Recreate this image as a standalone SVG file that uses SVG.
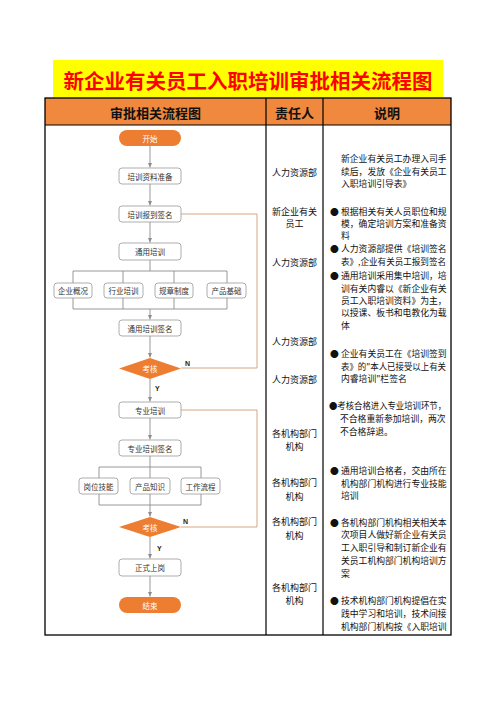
<svg xmlns="http://www.w3.org/2000/svg" width="496" height="702" viewBox="0 0 496 702">
<style>
text{font-family:"Noto Sans CJK SC","Noto Sans",sans-serif;dominant-baseline:central}
.title{font-size:20.5px;font-weight:bold;fill:#FF0000;text-anchor:middle}
.hd{font-size:13px;font-weight:bold;fill:#111;text-anchor:middle}
.box{fill:#fff;stroke:#9a9a9a;stroke-width:0.8}
.pill{fill:#ED7D31;stroke:none}
.bl{font-size:7.5px;fill:#333;text-anchor:middle}
.wl{font-size:7.5px;fill:#fff;text-anchor:middle}
.con{fill:none;stroke:#8c8c8c;stroke-width:0.9}
.loop{fill:none;stroke:#D49A72;stroke-width:0.9}
.c2{font-size:9px;fill:#111;text-anchor:middle}
.c3{font-size:8.8px;fill:#111}
.yn{font-size:7px;font-weight:bold;fill:#222;font-family:"Liberation Sans",sans-serif}
</style>
<defs>
<marker id="ah" markerWidth="6" markerHeight="6" refX="5" refY="3" orient="auto" markerUnits="userSpaceOnUse">
<path d="M0,0.8 L5,3 L0,5.2 Z" fill="#8c8c8c"/>
</marker>
</defs>
<g id="title">
<rect x="53" y="60" width="390" height="38" fill="#FFFF00"/>
<text class="title" x="248" y="80">新企业有关员工入职培训审批相关流程图</text>
</g>
<g id="table">
<rect x="45" y="98" width="406" height="27" fill="#F0883E"/>
<rect x="45" y="98" width="406" height="537" fill="none" stroke="#000" stroke-width="1.3"/>
<line x1="45" y1="125" x2="451" y2="125" stroke="#000" stroke-width="1.2"/>
<line x1="266" y1="98" x2="266" y2="635" stroke="#000" stroke-width="1.2"/>
<line x1="323" y1="98" x2="323" y2="635" stroke="#000" stroke-width="1.2"/>
<text class="hd" x="155.5" y="112">审批相关流程图</text>
<text class="hd" x="294.5" y="112">责任人</text>
<text class="hd" x="387" y="112">说明</text>
</g>
<g id="connectors">
<line class="con" x1="150" y1="146" x2="150" y2="167.5" marker-end="url(#ah)"/>
<line class="con" x1="150" y1="184" x2="150" y2="205.5" marker-end="url(#ah)"/>
<line class="con" x1="150" y1="222" x2="150" y2="242.5" marker-end="url(#ah)"/>
<path class="con" d="M150,260 V271 M73,271 H227 M73,271 V283 M123,271 V283 M174,271 V283 M227,271 V283"/>
<path class="con" d="M73,298 V309 M123,298 V309 M174,298 V309 M227,298 V309 M73,309 H227"/>
<line class="con" x1="150" y1="309" x2="150" y2="319.5" marker-end="url(#ah)"/>
<line class="con" x1="150" y1="336" x2="150" y2="357.5" marker-end="url(#ah)"/>
<line class="con" x1="150" y1="379" x2="150" y2="401.5" marker-end="url(#ah)"/>
<line class="con" x1="150" y1="418" x2="150" y2="439.5" marker-end="url(#ah)"/>
<path class="con" d="M150,456 V467 M99,467 H201 M99,467 V478 M150,467 V478 M201,467 V478"/>
<path class="con" d="M99,494 V505 M150,494 V505 M201,494 V505 M99,505 H201"/>
<line class="con" x1="150" y1="505" x2="150" y2="516.5" marker-end="url(#ah)"/>
<line class="con" x1="150" y1="537" x2="150" y2="558.5" marker-end="url(#ah)"/>
<line class="con" x1="150" y1="576" x2="150" y2="596.5" marker-end="url(#ah)"/>
<path class="loop" d="M181,214 H257 V368 H181"/>
<path class="loop" d="M181,410 H257 V527 H181"/>
<text class="yn" x="185" y="363">N</text>
<text class="yn" x="155" y="388">Y</text>
<text class="yn" x="183" y="521">N</text>
<text class="yn" x="157" y="548">Y</text>
</g>
<g id="start"><rect class="pill" x="119" y="130" width="62" height="16" rx="8"/><text class="wl" x="150" y="138">开始</text></g>
<g id="n1"><rect class="box" x="119" y="168" width="62" height="16" rx="3"/><text class="bl" x="150" y="176">培训资料准备</text></g>
<g id="n2"><rect class="box" x="119" y="206" width="62" height="16" rx="3"/><text class="bl" x="150" y="214">培训报到签名</text></g>
<g id="n3"><rect class="box" x="119" y="243" width="62" height="17" rx="3"/><text class="bl" x="150" y="251.5">通用培训</text></g>
<g id="n4"><rect class="box" x="54" y="283" width="38" height="15" rx="3"/><text class="bl" x="73" y="290.5">企业概况</text></g>
<g id="n5"><rect class="box" x="104" y="283" width="39" height="15" rx="3"/><text class="bl" x="123.5" y="290.5">行业培训</text></g>
<g id="n6"><rect class="box" x="155" y="283" width="38" height="15" rx="3"/><text class="bl" x="174" y="290.5">规章制度</text></g>
<g id="n7"><rect class="box" x="207" y="283" width="39" height="15" rx="3"/><text class="bl" x="226.5" y="290.5">产品基础</text></g>
<g id="n8"><rect class="box" x="119" y="320" width="62" height="16" rx="3"/><text class="bl" x="150" y="328">通用培训签名</text></g>
<g id="d1"><polygon class="pill" points="150,358 181,368.5 150,379 119,368.5"/><text class="wl" x="150" y="368.5">考核</text></g>
<g id="n9"><rect class="box" x="119" y="402" width="62" height="16" rx="3"/><text class="bl" x="150" y="410">专业培训</text></g>
<g id="n10"><rect class="box" x="119" y="440" width="62" height="16" rx="3"/><text class="bl" x="150" y="448">专业培训签名</text></g>
<g id="n11"><rect class="box" x="79" y="478" width="39" height="16" rx="3"/><text class="bl" x="98.5" y="486">岗位技能</text></g>
<g id="n12"><rect class="box" x="130" y="478" width="40" height="16" rx="3"/><text class="bl" x="150" y="486">产品知识</text></g>
<g id="n13"><rect class="box" x="181" y="478" width="39" height="16" rx="3"/><text class="bl" x="200.5" y="486">工作流程</text></g>
<g id="d2"><polygon class="pill" points="150,517 181,527 150,537 119,527"/><text class="wl" x="150" y="527">考核</text></g>
<g id="n14"><rect class="box" x="119" y="559" width="62" height="17" rx="3"/><text class="bl" x="150" y="567.5">正式上岗</text></g>
<g id="end"><rect class="pill" x="119" y="597" width="62" height="16" rx="8"/><text class="wl" x="150" y="605">结束</text></g>
<g id="col2">
<text class="c2" x="294.5" y="172">人力资源部</text>
<text class="c2" x="294.5" y="211">新企业有关</text>
<text class="c2" x="294.5" y="223">员工</text>
<text class="c2" x="294.5" y="262">人力资源部</text>
<text class="c2" x="294.5" y="341">人力资源部</text>
<text class="c2" x="294.5" y="379">人力资源部</text>
<text class="c2" x="294.5" y="433">各机构部门</text>
<text class="c2" x="294.5" y="446">机构</text>
<text class="c2" x="294.5" y="482">各机构部门</text>
<text class="c2" x="294.5" y="496">机构</text>
<text class="c2" x="294.5" y="521">各机构部门</text>
<text class="c2" x="294.5" y="535">机构</text>
<text class="c2" x="294.5" y="587">各机构部门</text>
<text class="c2" x="294.5" y="600">机构</text>
</g>
<g id="col3">
<text class="c3" x="341" y="158">新企业有关员工办理入司手</text>
<text class="c3" x="341" y="171">续后，发放《企业有关员工</text>
<text class="c3" x="341" y="183">入职培训引导表》</text>
<text class="c3" x="330" y="211">●</text>
<text class="c3" x="341" y="211">根据相关有关人员职位和规</text>
<text class="c3" x="341" y="223">模，确定培训方案和准备资</text>
<text class="c3" x="341" y="235">料</text>
<text class="c3" x="330" y="248">●</text>
<text class="c3" x="341" y="248">人力资源部提供《培训签名</text>
<text class="c3" x="341" y="261" textLength="105" lengthAdjust="spacingAndGlyphs">表》,企业有关员工报到签名</text>
<text class="c3" x="330" y="275">●</text>
<text class="c3" x="341" y="275">通用培训采用集中培训，培</text>
<text class="c3" x="341" y="288">训有关内睿以《新企业有关</text>
<text class="c3" x="341" y="300">员工入职培训资料》为主，</text>
<text class="c3" x="341" y="312">以授课、板书和电教化为载</text>
<text class="c3" x="341" y="325">体</text>
<text class="c3" x="330" y="353">●</text>
<text class="c3" x="341" y="353">企业有关员工在《培训签到</text>
<text class="c3" x="341" y="366" textLength="105" lengthAdjust="spacingAndGlyphs">表》的"本人已接受以上有关</text>
<text class="c3" x="341" y="378">内睿培训"栏签名</text>
<text class="c3" x="329" y="405" textLength="117" lengthAdjust="spacingAndGlyphs">●考核合格进入专业培训环节，</text>
<text class="c3" x="340" y="418">不合格重新参加培训，两次</text>
<text class="c3" x="340" y="431">不合格辞退。</text>
<text class="c3" x="330" y="470">●</text>
<text class="c3" x="341" y="470">通用培训合格者，交由所在</text>
<text class="c3" x="341" y="483">机构部门机构进行专业技能</text>
<text class="c3" x="341" y="495">培训</text>
<text class="c3" x="330" y="522">●</text>
<text class="c3" x="341" y="522">各机构部门机构相关相关本</text>
<text class="c3" x="341" y="534">次项目人做好新企业有关员</text>
<text class="c3" x="341" y="547">工入职引导和制订新企业有</text>
<text class="c3" x="341" y="560">关员工机构部门机构培训方</text>
<text class="c3" x="341" y="573">案</text>
<text class="c3" x="330" y="600">●</text>
<text class="c3" x="341" y="600">技术机构部门机构提倡在实</text>
<text class="c3" x="341" y="613">践中学习和培训，技术间接</text>
<text class="c3" x="341" y="626">机构部门机构按《入职培训</text>
</g>
</svg>
